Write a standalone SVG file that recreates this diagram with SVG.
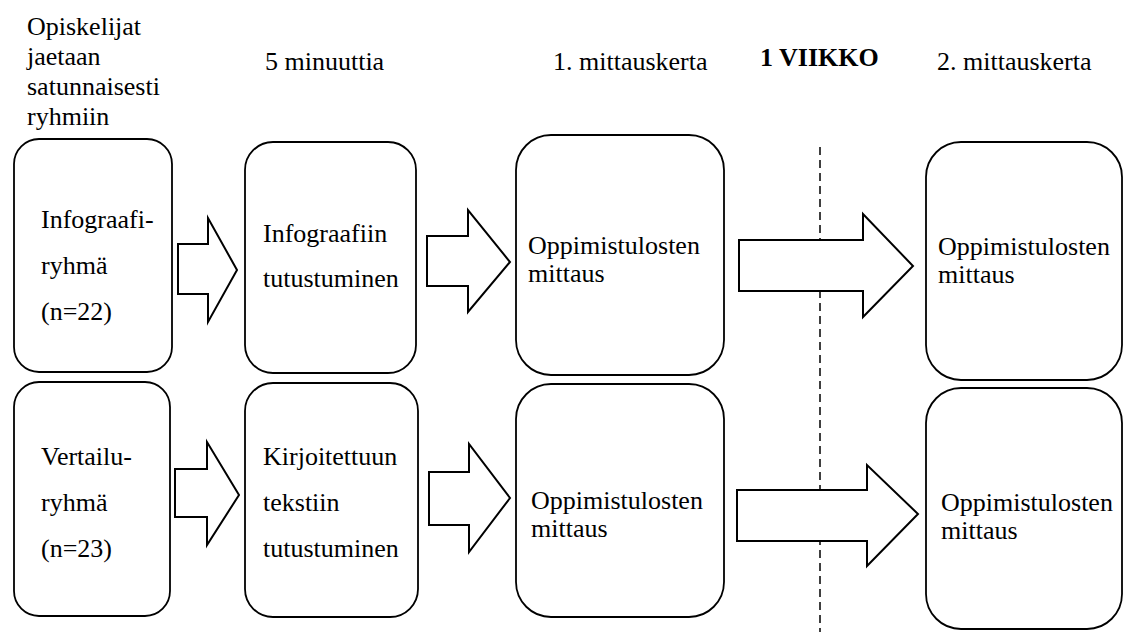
<svg xmlns="http://www.w3.org/2000/svg" width="1123" height="632" viewBox="0 0 1123 632">
<style>
text{font-family:'Liberation Serif','DejaVu Serif',serif;font-size:26px;fill:#000}
.b{font-weight:bold}
.box{fill:#fff;stroke:#000;stroke-width:1.8}
.arr{fill:#fff;stroke:#000;stroke-width:2;stroke-linejoin:miter}
.dash{stroke:#000;stroke-width:1.5;stroke-dasharray:8 5;fill:none}
</style>
<rect width="1123" height="632" fill="#fff"/>
<g id="labels">
<text x="27" y="35">Opiskelijat</text>
<text x="27" y="65">jaetaan</text>
<text x="27" y="95">satunnaisesti</text>
<text x="27" y="125">ryhmiin</text>
<text x="265" y="70">5 minuuttia</text>
<text x="553" y="70">1. mittauskerta</text>
<text class="b" x="760" y="66">1 VIIKKO</text>
<text x="937" y="70">2. mittauskerta</text>
</g>
<g id="connectors">
<line class="dash" x1="820" y1="147" x2="820" y2="632"/>
<polygon class="arr" points="178,244 208,244 208,218 237,270 208,322 208,294 178,294"/>
<polygon class="arr" points="427,236 468,236 468,210 510,262 468,312 468,286 427,286"/>
<polygon class="arr" points="739,240 863,240 863,214 913,266 863,317 863,291 739,291"/>
<polygon class="arr" points="175,469 207,469 207,442 239,495 207,545 207,517 175,517"/>
<polygon class="arr" points="429,472 469,472 469,444 510,498 469,552 469,525 429,525"/>
<polygon class="arr" points="737,490 867,490 867,465 918,514 867,566 867,541 737,541"/>
</g>
<g id="n1">
<rect class="box" x="14" y="139" width="158" height="233" rx="25"/>
<text x="41" y="228">Infograafi-</text>
<text x="41" y="274">ryhmä</text>
<text x="41" y="320">(n=22)</text>
</g>
<g id="n2">
<rect class="box" x="245" y="142" width="171" height="231" rx="28"/>
<text x="263" y="242">Infograafiin</text>
<text x="263" y="287">tutustuminen</text>
</g>
<g id="n3">
<rect class="box" x="516" y="135" width="208" height="240" rx="35"/>
<text x="528" y="254">Oppimistulosten</text>
<text x="528" y="282">mittaus</text>
</g>
<g id="n4">
<rect class="box" x="926" y="142" width="196" height="238" rx="35"/>
<text x="938" y="255">Oppimistulosten</text>
<text x="938" y="283">mittaus</text>
</g>
<g id="n5">
<rect class="box" x="14" y="382" width="156" height="234" rx="25"/>
<text x="41" y="465">Vertailu-</text>
<text x="41" y="511">ryhmä</text>
<text x="41" y="557">(n=23)</text>
</g>
<g id="n6">
<rect class="box" x="245" y="383" width="173" height="234" rx="28"/>
<text x="263" y="465">Kirjoitettuun</text>
<text x="263" y="511">tekstiin</text>
<text x="263" y="557">tutustuminen</text>
</g>
<g id="n7">
<rect class="box" x="516" y="384" width="208" height="233" rx="35"/>
<text x="531" y="509">Oppimistulosten</text>
<text x="531" y="537">mittaus</text>
</g>
<g id="n8">
<rect class="box" x="926" y="388" width="196" height="241" rx="35"/>
<text x="941" y="511">Oppimistulosten</text>
<text x="941" y="539">mittaus</text>
</g>
</svg>
